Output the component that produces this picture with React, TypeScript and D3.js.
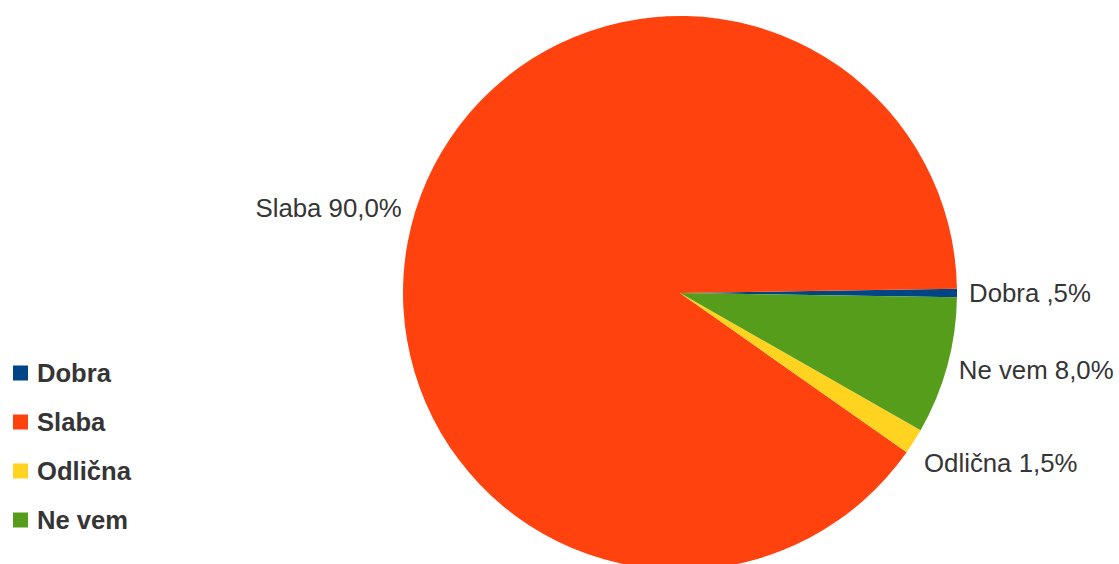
import React from "react";
import * as d3 from "d3";

const categories = ["Dobra", "Slaba", "Odlična", "Ne vem"];
const values = [0.5, 90.0, 1.5, 8.0];
const valueLabels = ["Dobra ,5%", "Slaba 90,0%", "Odlična 1,5%", "Ne vem 8,0%"];
const colors = ["#004586", "#ff420e", "#ffd320", "#579d1c"];

const W = 1119;
const H = 564;
const cx = 680;
const cy = 293;
const R = 277;
const labelGap = 12;
const labelFs = 25.8;
const legendFs = 25.6;
const textColor = "#353535";

export default function App() {
  const total = d3.sum(values);
  const start = Math.PI / 2 + (values[0] / total) * Math.PI;
  const pie = d3
    .pie<number>()
    .sort(null)
    .value((d) => d)
    .startAngle(start)
    .endAngle(start - 2 * Math.PI);
  const arcs = pie(values);
  const arcGen = d3.arc<d3.PieArcDatum<number>>().innerRadius(0).outerRadius(R);

  const legendY = d3
    .scalePoint<string>()
    .domain(categories)
    .range([373, 520]);

  return (
    <svg
      width={W}
      height={H}
      style={{ position: "absolute", left: 0, top: 0, background: "#fff" }}
      fontFamily="'Liberation Sans', Arial, sans-serif"
    >
      <rect x={0} y={0} width={W} height={H} fill="#ffffff" />
      <g transform={`translate(${cx},${cy})`}>
        {arcs.map((a, i) => (
          <path key={i} d={arcGen(a) || ""} fill={colors[i]} />
        ))}
      </g>
      {arcs.map((a, i) => {
        const mid = (a.startAngle + a.endAngle) / 2;
        const rr = R + labelGap;
        const x = cx + Math.sin(mid) * rr;
        const y = cy - Math.cos(mid) * rr;
        let deg = (Math.atan2(cy - y, x - cx) * 180) / Math.PI;
        if (deg < 0) deg += 360;
        const sector = Math.round(deg / 45) % 8;
        let anchor: "start" | "middle" | "end" = "start";
        let vy = 0;
        if (sector === 0) { anchor = "start"; vy = 0.36 * labelFs; }
        else if (sector === 1) { anchor = "start"; vy = -0.22 * labelFs; }
        else if (sector === 2) { anchor = "middle"; vy = -0.22 * labelFs; }
        else if (sector === 3) { anchor = "end"; vy = -0.22 * labelFs; }
        else if (sector === 4) { anchor = "end"; vy = 0.36 * labelFs; }
        else if (sector === 5) { anchor = "end"; vy = 0.93 * labelFs; }
        else if (sector === 6) { anchor = "middle"; vy = 0.93 * labelFs; }
        else { anchor = "start"; vy = 0.93 * labelFs; }
        const dx = anchor === "end" ? -2 : 0;
        return (
          <text
            key={"l" + i}
            x={x + dx}
            y={y + vy}
            textAnchor={anchor}
            fontSize={labelFs}
            fill={textColor}
          >
            {valueLabels[i]}
          </text>
        );
      })}
      {categories.map((c, i) => {
        const y = legendY(c) as number;
        return (
          <g key={"lg" + i}>
            <rect x={13} y={y - 7.5} width={15} height={15} fill={colors[i]} />
            <text
              x={37}
              y={y + 0.36 * legendFs}
              fontSize={legendFs}
              fontWeight="bold"
              fill={textColor}
            >
              {c}
            </text>
          </g>
        );
      })}
    </svg>
  );
}
